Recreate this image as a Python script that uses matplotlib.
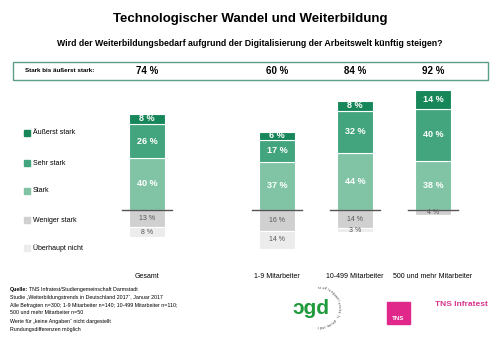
import numpy as np
import matplotlib
matplotlib.use("Agg")
from matplotlib import pyplot as plt
from matplotlib.patches import Rectangle

plt.rcParams['font.family'] = ['Liberation Sans', 'DejaVu Sans']

# data (percent)
groups = ["Gesamt", "1-9 Mitarbeiter", "10-499 Mitarbeiter", "500 und mehr Mitarbeiter"]
aeusserst = [8, 6, 8, 14]
sehr_stark = [26, 17, 32, 40]
stark = [40, 37, 44, 38]
weniger = [13, 16, 14, 4]
ueberhaupt = [8, 14, 3, 0]
summe = [74, 60, 84, 92]

legend_labels = ["Äußerst stark", "Sehr stark", "Stark", "Weniger stark", "Überhaupt nicht"]
colors = ["#17875a", "#43a57e", "#80c4a5", "#d0d0d0", "#ececec"]

W, H = 500, 343
fig = plt.figure(figsize=(5, 3.43), dpi=100)
ax = fig.add_axes([0, 0, 1, 1])
# x: 1 unit = 78 px, Gesamt at px 147 ; y: 1 % = 1.3 px, baseline at px 210
x_pos = np.array([0, 1.667, 2.667, 3.667])
ax.set_xlim(-147 / 78, (W - 147) / 78)
ax.set_ylim(-(H - 210) / 1.3, 210 / 1.3)
ax.axis("off")

bw = 0.47
pos = [stark, sehr_stark, aeusserst]
pos_cols = [colors[2], colors[1], colors[0]]
bottom = np.zeros(4)
for vals, c in zip(pos, pos_cols):
    vals = np.array(vals)
    ax.bar(x_pos, vals, bw, bottom=bottom, color=c, edgecolor="white", linewidth=0.8)
    for x, v, b in zip(x_pos, vals, bottom):
        ax.text(x, b + v / 2, f"{v} %", ha="center", va="center", color="white",
                fontsize=6.5, fontweight="bold")
    bottom += vals

neg_bottom = np.zeros(4)
for vals, c in zip([weniger, ueberhaupt], [colors[3], colors[4]]):
    vals = np.array(vals)
    ax.bar(x_pos, -vals, bw, bottom=neg_bottom, color=c, edgecolor="white", linewidth=0.8)
    for x, v, b in zip(x_pos, vals, neg_bottom):
        if v > 0:
            ax.text(x, b - v / 2, f"{v} %", ha="center", va="center", color="#555555",
                    fontsize=5)
    neg_bottom -= vals

for x in x_pos:
    ax.plot([x - 0.32, x + 0.32], [0, 0], color="#555555", lw=1)


def fy(px):
    return 1 - px / H


def fx(px):
    return px / W


# titles
fig.text(0.5, fy(19), "Technologischer Wandel und Weiterbildung", ha="center", va="center",
         fontsize=9.5, fontweight="bold")
fig.text(0.5, fy(44), "Wird der Weiterbildungsbedarf aufgrund der Digitalisierung der Arbeitswelt künftig steigen?",
         ha="center", va="center", fontsize=6.3, fontweight="bold")

# summary box
fig.patches.append(Rectangle((fx(13), fy(80)), fx(488) - fx(13), fy(62) - fy(80),
                             transform=fig.transFigure, fill=False, edgecolor="#5f9e86", lw=1))
fig.text(fx(25), fy(71), "Stark bis äußerst stark:", ha="left", va="center", fontsize=4.5,
         fontweight="bold")
for x, s in zip(x_pos, summe):
    px = 147 + 78 * x
    fig.text(fx(px), fy(71), f"{s} %", ha="center", va="center", fontsize=7, fontweight="bold")

# legend
leg_y = [133, 163, 191, 220, 248]
for lab, c, y in zip(legend_labels, colors, leg_y):
    fig.patches.append(Rectangle((fx(24), fy(y + 3)), fx(6), fy(0) - fy(6),
                                 transform=fig.transFigure, color=c))
    fig.text(fx(33), fy(y), lab, ha="left", va="center", fontsize=5)

# category labels
for x, g in zip(x_pos, groups):
    fig.text(fx(147 + 78 * x), fy(276), g, ha="center", va="center", fontsize=5)

# source notes
notes = ["Studie „Weiterbildungstrends in Deutschland 2017“, Januar 2017",
         "Alle Befragten n=300; 1-9 Mitarbeiter n=140; 10-499 Mitarbeiter n=110;",
         "500 und mehr Mitarbeiter n=50",
         "Werte für „keine Angaben“ nicht dargestellt",
         "Rundungsdifferenzen möglich"]
fig.text(fx(10), fy(289), "Quelle:", ha="left", va="center", fontsize=3.8, fontweight="bold")
fig.text(fx(29), fy(289), "TNS Infratest/Studiengemeinschaft Darmstadt", ha="left", va="center",
         fontsize=3.8)
for i, n in enumerate(notes):
    fig.text(fx(10), fy(297 + 8 * i), n, ha="left", va="center", fontsize=3.8)

# sgd logo
fig.text(fx(311), fy(309), "ɔgd", ha="center", va="center", fontsize=15, fontweight="bold",
         color="#1f9a3c")
arc = "studiengemeinschaft darmstadt"
cx, cy, r = 320, 307, 19
for i, ch in enumerate(arc):
    a = np.deg2rad(95 - 190 * i / (len(arc) - 1))
    fig.text(fx(cx + r * np.cos(a)), fy(cy - r * np.sin(a)), ch, ha="center", va="center",
             fontsize=2.5, rotation=np.rad2deg(a) - 90, color="#444444")

# TNS logos
fig.patches.append(Rectangle((fx(387), fy(324)), fx(23), fy(0) - fy(22),
                             transform=fig.transFigure, color="#e0288a"))
fig.text(fx(398.5), fy(319), "TNS", ha="center", va="center", fontsize=4.5, color="white",
         fontweight="bold")
fig.text(fx(461), fy(304), "TNS Infratest", ha="center", va="center", fontsize=6,
         color="#d7358f", fontweight="bold")

fig.savefig("out.png", dpi=100)
